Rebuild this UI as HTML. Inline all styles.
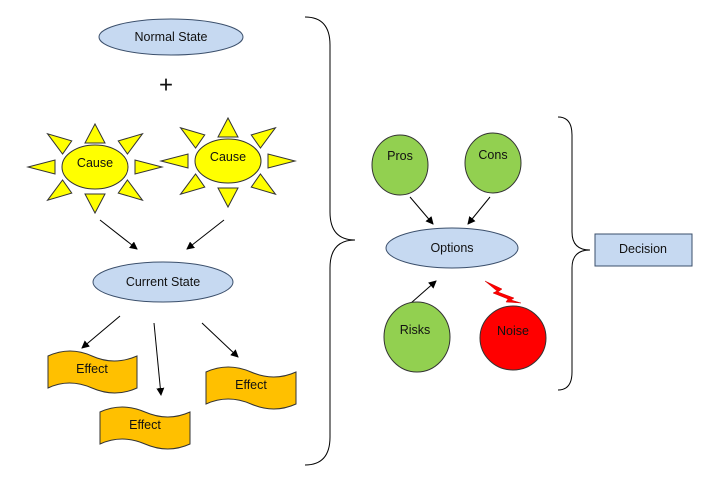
<!DOCTYPE html>
<html><head><meta charset="utf-8"><style>body{margin:0;background:#fff}svg{display:block}text{font-family:"Liberation Sans",Calibri,sans-serif;font-size:12.5px;fill:#111;text-anchor:middle;dominant-baseline:central}</style></head><body>
<svg width="726" height="491" viewBox="0 0 726 491" xmlns="http://www.w3.org/2000/svg">
<defs><marker id="a" markerWidth="8" markerHeight="8" refX="7" refY="4" orient="auto" markerUnits="userSpaceOnUse"><path d="M0,0 L8,4 L0,8 Z" fill="#000"/></marker>
<g id="rh"><polygon points="0,-7 0,7 27,0" fill="#ffff00" stroke="#333" stroke-width="1"/></g>
<g id="rv"><polygon points="0,-10 0,10 19,0" fill="#ffff00" stroke="#333" stroke-width="1"/></g>
<g id="rd"><polygon points="0,-8 0,8 24,0" fill="#ffff00" stroke="#333" stroke-width="1"/></g>
<g id="sun">
<use href="#rh" transform="rotate(0) translate(40,0)"/>
<use href="#rh" transform="rotate(180) translate(40,0)"/>
<use href="#rv" transform="rotate(90) translate(27,0)"/>
<use href="#rv" transform="rotate(-90) translate(24,0)"/>
<use href="#rd" transform="rotate(-35) translate(34,0)"/>
<use href="#rd" transform="rotate(-145) translate(34,0)"/>
<use href="#rd" transform="rotate(35) translate(34,0)"/>
<use href="#rd" transform="rotate(145) translate(34,0)"/>
<ellipse cx="0" cy="0" rx="33" ry="22" fill="#ffff00" stroke="#333"/>
</g></defs>
<ellipse cx="171" cy="37" rx="72" ry="18" fill="#c6d9f1" stroke="#3b4f6b"/>
<text x="171" y="37">Normal State</text>
<text x="166" y="85" style="font-size:24px">+</text>
<use href="#sun" transform="translate(95,167)"/>
<text x="95" y="163">Cause</text>
<use href="#sun" transform="translate(228,161)"/>
<text x="228" y="157">Cause</text>
<g stroke="#000" stroke-width="1" marker-end="url(#a)">
<line x1="100" y1="220" x2="137" y2="249"/>
<line x1="224" y1="220" x2="187" y2="249"/>
<line x1="120" y1="316" x2="82" y2="348"/>
<line x1="154" y1="323" x2="161" y2="395"/>
<line x1="202" y1="323" x2="238" y2="357"/>
<line x1="410" y1="197" x2="433" y2="224"/>
<line x1="490" y1="197" x2="468" y2="224"/>
<line x1="411" y1="303" x2="436" y2="281"/>
</g>
<ellipse cx="163" cy="282" rx="70" ry="20" fill="#c6d9f1" stroke="#3b4f6b"/>
<text x="163" y="282">Current State</text>
<g fill="#ffc000" stroke="#333">
<path d="M48,356 Q70,346 92,356 T137,356 L137,388 Q115,398 92,388 T48,388 Z"/>
<path d="M100,412 Q122,402 145,412 T190,412 L190,444 Q168,454 145,444 T100,444 Z"/>
<path d="M206,372 Q228,362 251,372 T296,372 L296,404 Q274,414 251,404 T206,404 Z"/>
</g>
<text x="92" y="369">Effect</text>
<text x="145" y="425">Effect</text>
<text x="251" y="385">Effect</text>
<g fill="none" stroke="#000" stroke-width="1">
<path d="M305,17 Q330,17 330,45 L330,212 Q330,240 355,240 Q330,240 330,268 L330,437 Q330,465 305,465"/>
<path d="M558,117 Q572,117 572,135 L572,232 Q572,250 590,250 Q572,250 572,268 L572,372 Q572,390 558,390"/>
</g>
<ellipse cx="400" cy="165" rx="28" ry="30" fill="#92d050" stroke="#333"/>
<text x="400" y="156">Pros</text>
<ellipse cx="493" cy="163" rx="28" ry="30" fill="#92d050" stroke="#333"/>
<text x="493" y="155">Cons</text>
<ellipse cx="452" cy="248" rx="66" ry="20" fill="#c6d9f1" stroke="#3b4f6b"/>
<text x="452" y="248">Options</text>
<ellipse cx="417" cy="337" rx="33" ry="35" fill="#92d050" stroke="#333"/>
<text x="415" y="330">Risks</text>
<ellipse cx="513" cy="338" rx="33" ry="32" fill="#ff0000" stroke="#333"/>
<text x="513" y="331">Noise</text>
<polygon points="485,281 502,289 498,292 514,298 511,300 521,303 506,302 508,299 493,293 497,291" fill="#ff0000" stroke="#c00" stroke-width="0.5"/>
<rect x="595" y="234" width="97" height="32" fill="#c6d9f1" stroke="#3b4f6b"/>
<text x="643" y="249">Decision</text>
</svg>
</body></html>
